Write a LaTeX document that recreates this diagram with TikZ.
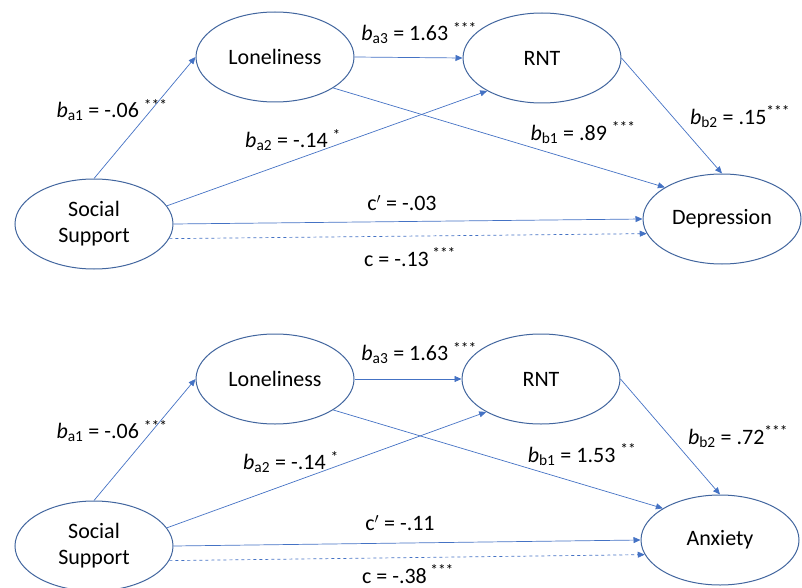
\documentclass[tikz,border=0pt]{standalone}
\usepackage{fontspec}
\setmainfont{Carlito}
\usepackage{tikz}
\usetikzlibrary{arrows.meta,shapes.geometric}

\definecolor{ovalblue}{HTML}{41659E}
\definecolor{pathblue}{HTML}{4472C4}

\newcommand{\coef}[3]{\textit{b}\textsubscript{#1} = #2\textsuperscript{#3}}

\begin{document}
\begin{tikzpicture}[x=1pt,y=-1pt,>={Triangle[length=7pt,width=6pt]},
  main node/.style={ellipse,draw=ovalblue,line width=1pt,minimum width=158pt,
    minimum height=90pt,inner sep=0pt,align=center,font=\fontsize{22}{26}\selectfont},
  path line/.style={->,draw=pathblue,line width=0.7pt},
  total line/.style={path line,dashed},
  coef node/.style={inner sep=0pt,font=\fontsize{22}{26}\selectfont}]

  \useasboundingbox (0,0) rectangle (802,588);

  % upper model
  \node[main node] (ss1) at (94,224) {Social\\Support};
  \node[main node] (lon1) at (275,57) {Loneliness};
  \node[main node] (rnt1) at (542,58) {RNT};
  \node[main node] (dep1) at (722,219) {Depression};

  \draw[path line] (ss1.north) -- (lon1.west);
  \draw[path line] (ss1.14) -- (rnt1.211);
  \draw[path line] (lon1.east) -- (rnt1.west);
  \draw[path line] (lon1.-28) -- (dep1.151);
  \draw[path line] (rnt1.east) -- (dep1.north);
  \draw[path line] (ss1.east) -- (dep1.west);
  \draw[total line] (ss1.-11) -- (dep1.191);

  \node[coef node] (ba11) at (112,110) {\coef{a1}{-.06 }{***}};
  \node[coef node] (ba21) at (293,140) {\coef{a2}{-.14 }{*}};
  \node[coef node] (ba31) at (419,33) {\coef{a3}{1.63 }{***}};
  \node[coef node] (bb11) at (583,133) {\coef{b1}{.89 }{***}};
  \node[coef node] (bb21) at (740,117) {\coef{b2}{.15}{***}};
  \node[coef node] (cp1) at (402,203) {c$'$ = -.03};
  \node[coef node] (c1) at (410,257) {c = -.13\textsuperscript{ ***}};

  % lower model
  \node[main node] (ss2) at (94,546) {Social\\Support};
  \node[main node] (lon2) at (275,379) {Loneliness};
  \node[main node] (rnt2) at (541,379) {RNT};
  \node[main node] (anx2) at (720,540) {Anxiety};

  \draw[path line] (ss2.north) -- (lon2.west);
  \draw[path line] (ss2.14) -- (rnt2.211);
  \draw[path line] (lon2.east) -- (rnt2.west);
  \draw[path line] (lon2.-28) -- (anx2.151);
  \draw[path line] (rnt2.east) -- (anx2.north);
  \draw[path line] (ss2.east) -- (anx2.west);
  \draw[total line] (ss2.-11) -- (anx2.191);

  \node[coef node] (ba12) at (112,431) {\coef{a1}{-.06 }{***}};
  \node[coef node] (ba22) at (291,462) {\coef{a2}{-.14 }{*}};
  \node[coef node] (ba32) at (419,353) {\coef{a3}{1.63 }{***}};
  \node[coef node] (bb12) at (582,455) {\coef{b1}{1.53 }{**}};
  \node[coef node] (bb22) at (738,437) {\coef{b2}{.72}{***}};
  \node[coef node] (cp2) at (400,523) {c$'$ = -.11};
  \node[coef node] (c2) at (408,574) {c = -.38\textsuperscript{ ***}};
\end{tikzpicture}
\end{document}
